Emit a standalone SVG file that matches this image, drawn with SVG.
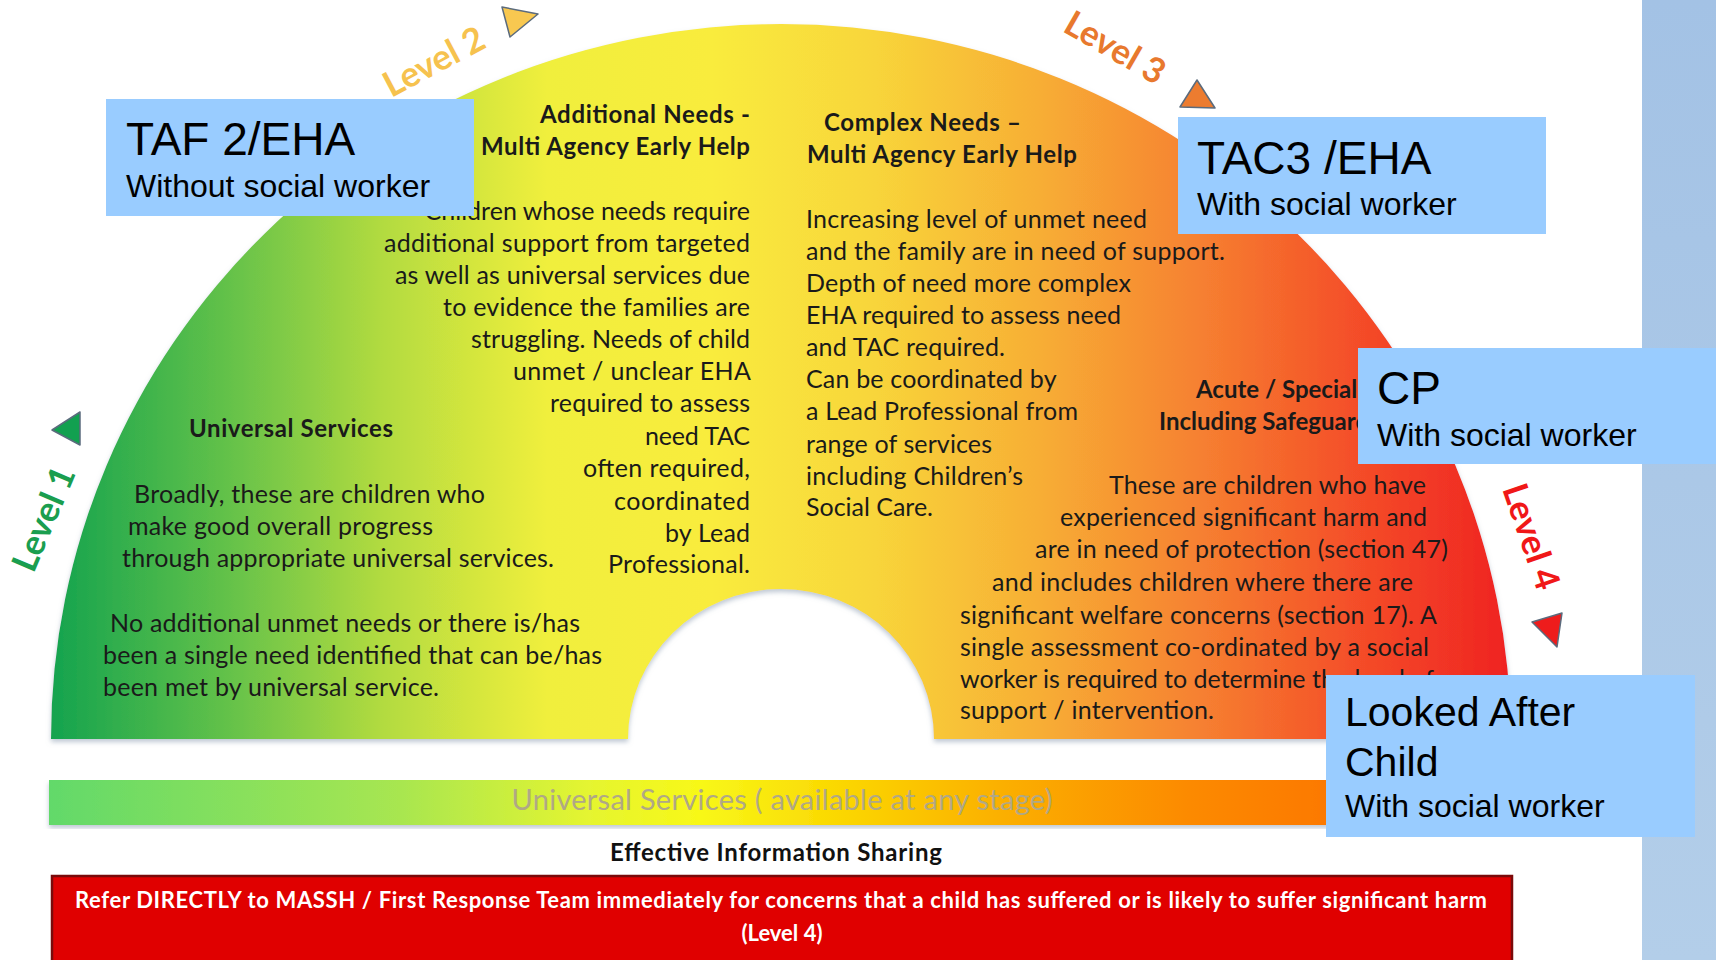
<svg xmlns="http://www.w3.org/2000/svg" width="1716" height="960" viewBox="0 0 1716 960">
<defs>
<linearGradient id="archGrad" gradientUnits="userSpaceOnUse" x1="51" y1="0" x2="1511" y2="0">
<stop offset="0" stop-color="#14a34f"/>
<stop offset="0.115" stop-color="#5fc04a"/>
<stop offset="0.227" stop-color="#b2db40"/>
<stop offset="0.34" stop-color="#f0ef3c"/>
<stop offset="0.452" stop-color="#f9ec3e"/>
<stop offset="0.565" stop-color="#f8d53a"/>
<stop offset="0.677" stop-color="#f7ae35"/>
<stop offset="0.79" stop-color="#f67f30"/>
<stop offset="0.902" stop-color="#f44a28"/>
<stop offset="1" stop-color="#ef2222"/>
</linearGradient>
<linearGradient id="barGrad" gradientUnits="userSpaceOnUse" x1="49" y1="0" x2="1511" y2="0">
<stop offset="0" stop-color="#62d96a"/>
<stop offset="0.24" stop-color="#a8e650"/>
<stop offset="0.37" stop-color="#e5f530"/>
<stop offset="0.445" stop-color="#f8f818"/>
<stop offset="0.55" stop-color="#fbd400"/>
<stop offset="0.65" stop-color="#fbb000"/>
<stop offset="0.78" stop-color="#fc8a00"/>
<stop offset="1" stop-color="#fc6200"/>
</linearGradient>
<linearGradient id="stripGrad" x1="0" y1="0" x2="0" y2="1">
<stop offset="0" stop-color="#a3c2e5"/>
<stop offset="1" stop-color="#b3cee9"/>
</linearGradient>
<filter id="shadow" x="-5%" y="-5%" width="110%" height="112%">
<feGaussianBlur in="SourceAlpha" stdDeviation="2.5"/>
<feOffset dx="0" dy="3" result="b"/>
<feFlood flood-color="#8a9bb0" flood-opacity="0.55"/>
<feComposite in2="b" operator="in" result="s"/>
<feMerge><feMergeNode in="s"/><feMergeNode in="SourceGraphic"/></feMerge>
</filter>
</defs>
<style>
.body{font-family:Lato,"Liberation Sans",sans-serif;font-size:25px;fill:#1a1a1a}
.head{font-family:Lato,"Liberation Sans",sans-serif;font-size:24px;font-weight:700;fill:#1a1a1a}
.lvl{font-family:Lato,"Liberation Sans",sans-serif;font-size:35px;font-weight:700;text-anchor:middle;dominant-baseline:central}
.tri{stroke:#5b6b7d;stroke-width:1.5;stroke-linejoin:round}
.box{fill:#99ccff}
.bt{font-family:"Liberation Sans",Arial,sans-serif;fill:#000}
.big{font-size:46px}
.small{font-size:32px}
.end{text-anchor:end}
</style>

<rect id="side-strip" x="1642" y="0" width="74" height="960" fill="url(#stripGrad)"/>

<g id="arch">
<path d="M51 739 A730 715 0 0 1 1511 739 L934 739 A153 150 0 0 0 628 739 Z" fill="url(#archGrad)" filter="url(#shadow)"/>
</g>

<g id="level1">
<text class="lvl" fill="#1a9e4f" transform="translate(42,518) rotate(-67)">Level 1</text>
<polygon class="tri" points="52,430 80,412 80,445" fill="#12a050"/>
</g>
<g id="level2">
<text class="lvl" fill="#f6c24e" transform="translate(433,60) rotate(-28)">Level 2</text>
<polygon class="tri" points="502,7 538,14 510,37" fill="#f8c850"/>
</g>
<g id="level3">
<text class="lvl" fill="#e8792e" transform="translate(1116,46) rotate(30)">Level 3</text>
<polygon class="tri" points="1197,80 1215,108 1180,107" fill="#ec7c30"/>
</g>
<g id="level4">
<text class="lvl" fill="#f01818" transform="translate(1533,536) rotate(71)">Level 4</text>
<polygon class="tri" points="1532,622 1562,613 1557,647" fill="#ee1c1c"/>
</g>

<g id="universal-services">
<text class="head" x="189" y="437" textLength="204">Universal Services</text>
<text class="body">
<tspan x="134" y="503" textLength="351">Broadly, these are children who</tspan>
<tspan x="128" y="535" textLength="305">make good overall progress</tspan>
<tspan x="122" y="567" textLength="432">through appropriate universal services.</tspan>
<tspan x="110" y="632" textLength="470">No additional unmet needs or there is/has</tspan>
<tspan x="103" y="664" textLength="499">been a single need identified that can be/has</tspan>
<tspan x="103" y="696" textLength="336">been met by universal service.</tspan>
</text>
</g>

<g id="additional-needs">
<text class="head">
<tspan x="540" y="123" textLength="210">Additional Needs -</tspan>
<tspan x="481" y="155" textLength="269">Multi Agency Early Help</tspan>
</text>
<text class="body end" x="750" y="220">Children whose needs require</text>
<text class="body">
<tspan x="384" y="252" textLength="366">additional support from targeted</tspan>
<tspan x="395" y="284" textLength="355">as well as universal services due</tspan>
<tspan x="443" y="316" textLength="307">to evidence the families are</tspan>
<tspan x="471" y="348" textLength="279">struggling. Needs of child</tspan>
<tspan x="513" y="380" textLength="237">unmet /  unclear EHA</tspan>
<tspan x="550" y="412" textLength="200">required to assess</tspan>
<tspan x="645" y="445" textLength="105">need TAC</tspan>
<tspan x="583" y="477" textLength="167">often required,</tspan>
<tspan x="614" y="510" textLength="136">coordinated</tspan>
<tspan x="665" y="542" textLength="85">by Lead</tspan>
<tspan x="608" y="573" textLength="142">Professional.</tspan>
</text>
</g>

<g id="complex-needs">
<text class="head">
<tspan x="824" y="131" textLength="197">Complex Needs –</tspan>
<tspan x="807" y="163" textLength="270">Multi Agency Early Help</tspan>
</text>
<text class="body">
<tspan x="806" y="228" textLength="341">Increasing level of unmet need</tspan>
<tspan x="806" y="260" textLength="419">and the family are in need of support.</tspan>
<tspan x="806" y="292" textLength="325">Depth of need more complex</tspan>
<tspan x="806" y="324" textLength="315">EHA required to assess need</tspan>
<tspan x="806" y="356" textLength="199">and TAC required.</tspan>
<tspan x="806" y="388" textLength="250">Can be coordinated by</tspan>
<tspan x="806" y="420" textLength="272">a Lead Professional from</tspan>
<tspan x="806" y="453" textLength="186">range of services</tspan>
<tspan x="806" y="485" textLength="217">including Children’s</tspan>
<tspan x="806" y="516" textLength="127">Social Care.</tspan>
</text>
</g>

<g id="acute-specialist">
<text class="head">
<tspan x="1196" y="398">Acute / Specialist</tspan>
<tspan x="1159" y="430">Including Safeguarding</tspan>
</text>
<text class="body">
<tspan x="1109" y="494" textLength="317">These are children who have</tspan>
<tspan x="1060" y="526" textLength="367">experienced significant harm and</tspan>
<tspan x="1035" y="558" textLength="413">are in need of protection (section 47)</tspan>
<tspan x="992" y="591" textLength="421">and includes children where there are</tspan>
<tspan x="960" y="624" textLength="476">significant welfare concerns (section 17). A</tspan>
<tspan x="960" y="656" textLength="469">single assessment co-ordinated by a social</tspan>
<tspan x="960" y="688">worker is required to determine the level of</tspan>
<tspan x="960" y="719" textLength="254">support / intervention.</tspan>
</text>
</g>

<g id="universal-bar">
<rect x="49" y="780" width="1462" height="45" fill="url(#barGrad)" filter="url(#shadow)"/>
<text x="782" y="810" text-anchor="middle" textLength="541" style="font-family:Lato,'Liberation Sans',sans-serif;font-size:29px" fill="#b0a886">Universal Services ( available at any stage)</text>
</g>

<g id="info-sharing">
<text x="776" y="861" text-anchor="middle" textLength="332" style="font-family:Lato,'Liberation Sans',sans-serif;font-size:24px;font-weight:700" fill="#111">Effective Information Sharing</text>
</g>

<g id="refer-box">
<rect x="52" y="876" width="1460" height="90" fill="#e00000" stroke="#7a0a0a" stroke-width="2.5"/>
<text style="font-family:Lato,'Liberation Sans',sans-serif;font-size:22px;font-weight:700" fill="#ffffff">
<tspan x="75" y="908" textLength="1412">Refer DIRECTLY to MASSH / First Response Team immediately for concerns that a child has suffered or is likely to suffer significant harm</tspan>
<tspan x="782" y="941" text-anchor="middle">(Level 4)</tspan>
</text>
</g>

<g id="connectors"></g>

<g id="box-taf2">
<rect class="box" x="106" y="99" width="368" height="117"/>
<text class="bt big" x="126" y="155">TAF 2/EHA</text>
<text class="bt small" x="126" y="197">Without social worker</text>
</g>
<g id="box-tac3">
<rect class="box" x="1178" y="117" width="368" height="117"/>
<text class="bt big" x="1197" y="174">TAC3 /EHA</text>
<text class="bt small" x="1197" y="215">With social worker</text>
</g>
<g id="box-cp">
<rect class="box" x="1358" y="348" width="358" height="116"/>
<text class="bt big" x="1377" y="404">CP</text>
<text class="bt small" x="1377" y="446">With social worker</text>
</g>
<g id="box-lac">
<rect class="box" x="1326" y="675" width="369" height="162"/>
<text class="bt" x="1345" y="726" style="font-size:41px">Looked After</text>
<text class="bt" x="1345" y="776" style="font-size:41px">Child</text>
<text class="bt small" x="1345" y="817">With social worker</text>
</g>
</svg>
